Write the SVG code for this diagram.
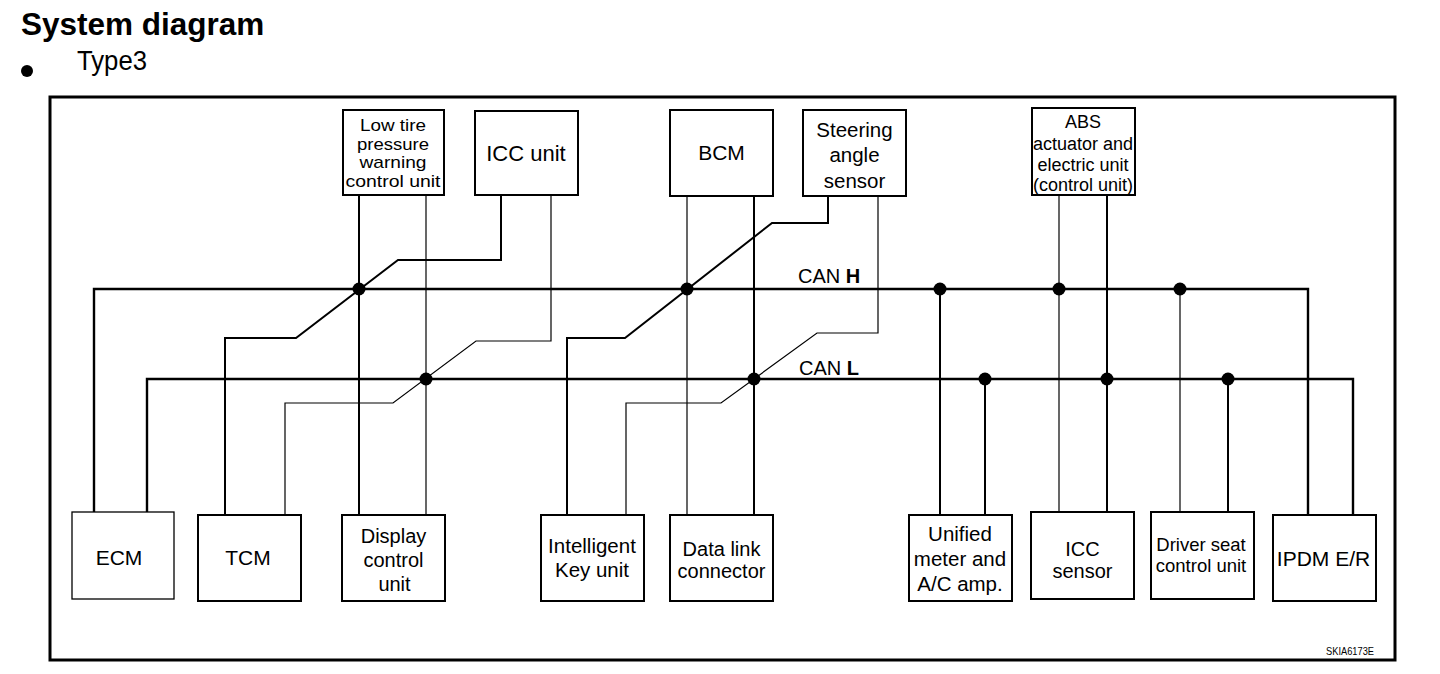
<svg xmlns="http://www.w3.org/2000/svg" width="1440" height="674" viewBox="0 0 1440 674">
<style>
text{font-family:"Liberation Sans",Arial,sans-serif;fill:#000}
.box{fill:#fff;stroke:#000;stroke-width:2}
.thinbox{fill:#fff;stroke:#000;stroke-width:1.3}
.bus{fill:none;stroke:#000;stroke-width:2.4}
.thk{fill:none;stroke:#000;stroke-width:2}
.thn{fill:none;stroke:#000;stroke-width:1.2}
.dot{fill:#000}
.lbl{text-anchor:middle}
</style>
<rect width="1440" height="674" fill="#fff"/>
<text x="21" y="35" font-size="31.5" font-weight="bold">System diagram</text>
<circle cx="27" cy="71" r="6" fill="#000"/>
<text x="77" y="70" font-size="27" textLength="70" lengthAdjust="spacingAndGlyphs">Type3</text>
<rect x="50" y="97" width="1345" height="563" fill="none" stroke="#000" stroke-width="3"/>

<g id="connectors">
  <polyline class="bus" points="94,512 94,289 1308,289 1308,515"/>
  <polyline class="bus" points="147,512 147,379 1353,379 1353,515"/>
  <line class="thk" x1="359" y1="195" x2="359" y2="515"/>
  <line class="thn" x1="426" y1="195" x2="426" y2="515"/>
  <polyline class="thk" points="501,195 501,260 398,260 296,338 225,338 225,515"/>
  <polyline class="thn" points="551,195 551,341 476,341 393,403 285,403 285,515"/>
  <line class="thn" x1="687" y1="196" x2="687" y2="515"/>
  <line class="thk" x1="754" y1="196" x2="754" y2="515"/>
  <polyline class="thk" points="828,196 828,223 772,223 625,338 567,338 567,515"/>
  <polyline class="thn" points="878,196 878,333 817,333 721,403 626,403 626,515"/>
  <line class="thk" x1="940" y1="289" x2="940" y2="515"/>
  <line class="thk" x1="985" y1="379" x2="985" y2="515"/>
  <line class="thn" x1="1059" y1="195" x2="1059" y2="512"/>
  <line class="thk" x1="1107" y1="195" x2="1107" y2="512"/>
  <line class="thn" x1="1180" y1="289" x2="1180" y2="512"/>
  <line class="thk" x1="1228" y1="379" x2="1228" y2="512"/>
  <circle class="dot" cx="359" cy="289" r="6.5"/>
  <circle class="dot" cx="687" cy="289" r="6.5"/>
  <circle class="dot" cx="940" cy="289" r="6.5"/>
  <circle class="dot" cx="1059" cy="289" r="6.5"/>
  <circle class="dot" cx="1180" cy="289" r="6.5"/>
  <circle class="dot" cx="426" cy="379" r="6.5"/>
  <circle class="dot" cx="754" cy="379" r="6.5"/>
  <circle class="dot" cx="985" cy="379" r="6.5"/>
  <circle class="dot" cx="1107" cy="379" r="6.5"/>
  <circle class="dot" cx="1228" cy="379" r="6.5"/>
  <text x="798" y="283" font-size="20">CAN <tspan font-weight="bold">H</tspan></text>
  <text x="799" y="375" font-size="20">CAN <tspan font-weight="bold">L</tspan></text>
</g>

<g id="lowtire">
  <rect class="box" x="343" y="110" width="101" height="85"/>
  <text class="lbl" font-size="17"><tspan x="393" y="131" textLength="66" lengthAdjust="spacingAndGlyphs">Low tire</tspan><tspan x="393" y="149.5" textLength="72" lengthAdjust="spacingAndGlyphs">pressure</tspan><tspan x="393" y="168" textLength="67" lengthAdjust="spacingAndGlyphs">warning</tspan><tspan x="393" y="186.5" textLength="95" lengthAdjust="spacingAndGlyphs">control unit</tspan></text>
</g>
<g id="iccunit">
  <rect class="box" x="475" y="111" width="103" height="84"/>
  <text class="lbl" x="526" y="161" font-size="22">ICC unit</text>
</g>
<g id="bcm">
  <rect class="box" x="670" y="110" width="103" height="86"/>
  <text class="lbl" x="721.5" y="160" font-size="21">BCM</text>
</g>
<g id="steering">
  <rect class="box" x="803" y="110" width="103" height="86"/>
  <text class="lbl" font-size="20.5"><tspan x="854.5" y="137">Steering</tspan><tspan x="854.5" y="162">angle</tspan><tspan x="854.5" y="188">sensor</tspan></text>
</g>
<g id="abs">
  <rect class="box" x="1032" y="108" width="103" height="87"/>
  <text class="lbl" font-size="18"><tspan x="1083" y="128">ABS</tspan><tspan x="1083" y="150">actuator and</tspan><tspan x="1083" y="171">electric unit</tspan><tspan x="1083" y="191">(control unit)</tspan></text>
</g>

<g id="ecm">
  <rect class="thinbox" x="72" y="512" width="102" height="87"/>
  <text class="lbl" x="119" y="565" font-size="21">ECM</text>
</g>
<g id="tcm">
  <rect class="box" x="198" y="515" width="103" height="86"/>
  <text class="lbl" x="248" y="565" font-size="21">TCM</text>
</g>
<g id="display">
  <rect class="box" x="342" y="515" width="103" height="86"/>
  <text class="lbl" font-size="20"><tspan x="393.5" y="543">Display</tspan><tspan x="393.5" y="567">control</tspan><tspan x="394.5" y="591">unit</tspan></text>
</g>
<g id="intelligentkey">
  <rect class="box" x="541" y="515" width="103" height="86"/>
  <text class="lbl" font-size="20.5"><tspan x="592" y="553">Intelligent</tspan><tspan x="592" y="577">Key unit</tspan></text>
</g>
<g id="datalink">
  <rect class="box" x="670" y="515" width="103" height="86"/>
  <text class="lbl" font-size="20"><tspan x="721.5" y="556">Data link</tspan><tspan x="721.5" y="578">connector</tspan></text>
</g>
<g id="unified">
  <rect class="box" x="909" y="515" width="103" height="86"/>
  <text class="lbl" font-size="20.5"><tspan x="960" y="541">Unified</tspan><tspan x="960" y="566">meter and</tspan><tspan x="960" y="591">A/C amp.</tspan></text>
</g>
<g id="iccsensor">
  <rect class="box" x="1031" y="512" width="103" height="87"/>
  <text class="lbl" font-size="20"><tspan x="1082.5" y="556">ICC</tspan><tspan x="1082.5" y="578">sensor</tspan></text>
</g>
<g id="driverseat">
  <rect class="box" x="1151" y="512" width="103" height="87"/>
  <text class="lbl" font-size="18.5"><tspan x="1201" y="551">Driver seat</tspan><tspan x="1201" y="572">control unit</tspan></text>
</g>
<g id="ipdm">
  <rect class="box" x="1273" y="515" width="103" height="86"/>
  <text class="lbl" x="1323.5" y="566" font-size="21">IPDM E/R</text>
</g>
<text x="1374" y="655" font-size="11.5" text-anchor="end" textLength="48" lengthAdjust="spacingAndGlyphs">SKIA6173E</text>
</svg>
